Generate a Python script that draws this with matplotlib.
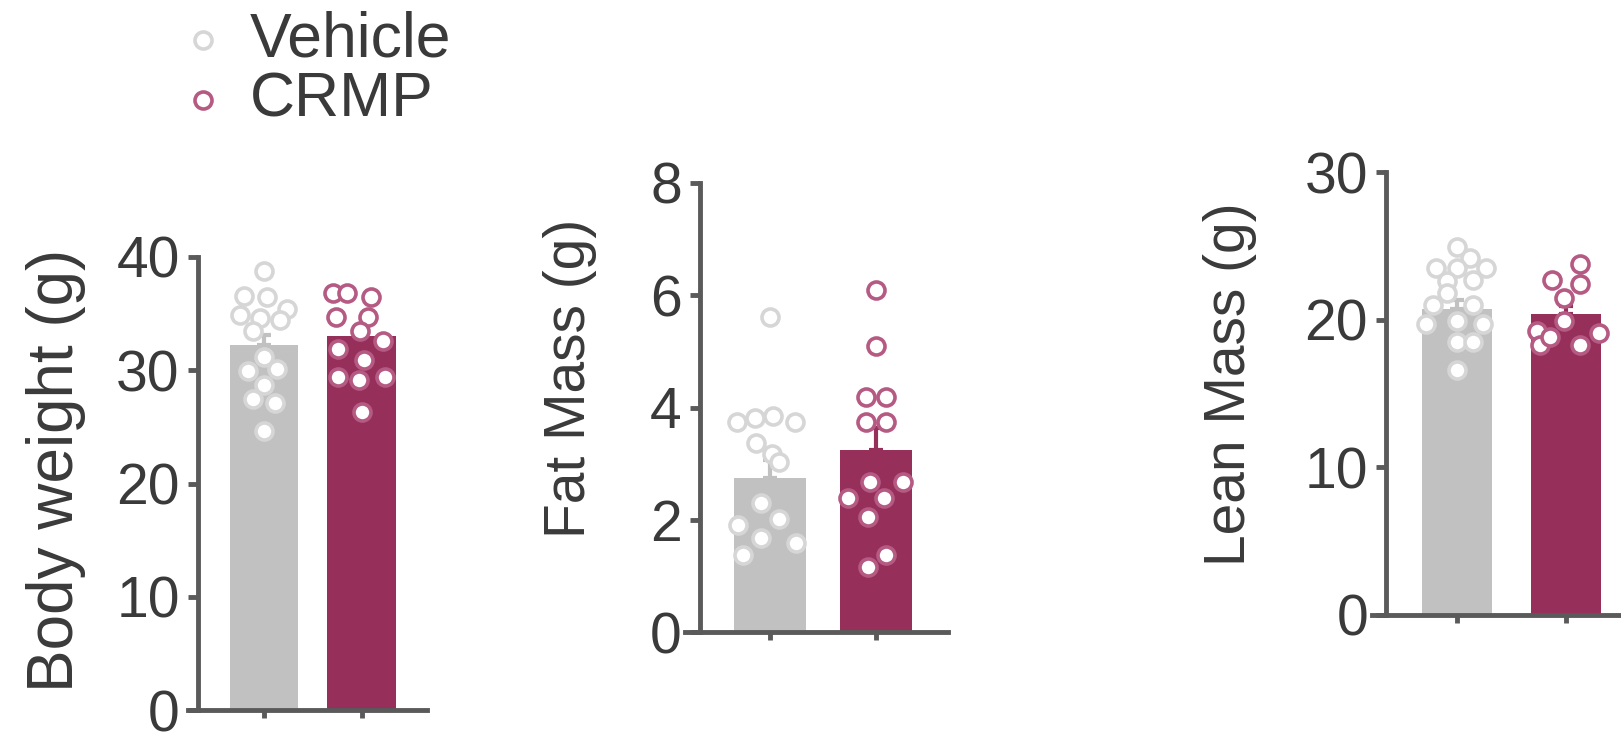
import numpy as np
import matplotlib
matplotlib.use('Agg')
import matplotlib.pyplot as plt
import matplotlib as mpl

mpl.rcParams['font.family'] = ['Liberation Sans', 'DejaVu Sans']
mpl.rcParams['axes.spines.top'] = False
mpl.rcParams['axes.spines.right'] = False

AXC = '#5a5a5a'; TXT = '#3a3a3a'
GREY = '#c1c1c1'; GREY_DOT = '#d6d6d6'
PLUM = '#96305a'; PLUM_DOT = '#b55a83'

groups = ['Vehicle', 'CRMP']

# body weight (g)
bw_mean = [32.2, 33.0]
bw_sem = [0.9, 0.8]
bw_veh = [38.8, 36.6, 36.5, 35.4, 34.9, 34.6, 34.4, 33.5, 31.2, 29.9, 30.1, 28.7, 27.5, 27.1, 24.6]
bw_veh_dx = [0.0, -0.21, 0.03, 0.23, -0.25, -0.04, 0.16, -0.11, 0.0, -0.16, 0.13, 0.0, -0.11, 0.11, 0.0]
bw_crmp = [36.8, 36.8, 36.5, 34.7, 34.7, 33.5, 32.6, 31.9, 30.9, 29.4, 29.1, 29.4, 26.3]
bw_crmp_dx = [-0.29, -0.15, 0.10, -0.26, 0.07, -0.02, 0.22, -0.24, 0.02, -0.24, -0.03, 0.24, 0.0]

# fat mass (g)
fm_mean = [2.74, 3.24]
fm_sem = [0.33, 0.40]
fm_veh = [5.62, 3.75, 3.81, 3.84, 3.75, 3.36, 3.18, 3.03, 2.29, 2.02, 1.90, 1.67, 1.58, 1.37]
fm_veh_dx = [0.0, -0.31, -0.14, 0.03, 0.24, -0.13, 0.02, 0.09, -0.08, 0.09, -0.30, -0.08, 0.25, -0.25]
fm_crmp = [6.10, 5.09, 4.19, 4.19, 3.75, 3.75, 2.68, 2.68, 2.38, 2.38, 2.05, 1.37, 1.16]
fm_crmp_dx = [0.0, 0.0, -0.09, 0.10, -0.09, 0.10, -0.06, 0.26, -0.26, 0.08, -0.07, 0.10, -0.07]

# lean mass (g)
lm_mean = [20.7, 20.4]
lm_sem = [0.6, 0.5]
lm_veh = [24.9, 24.2, 23.5, 23.5, 23.5, 22.6, 22.7, 21.8, 21.0, 21.0, 19.7, 19.9, 19.7, 18.5, 18.5, 16.6]
lm_veh_dx = [0.0, 0.12, -0.19, 0.0, 0.27, -0.09, 0.15, -0.09, -0.22, 0.15, -0.28, 0.0, 0.24, 0.0, 0.15, 0.0]
lm_crmp = [23.8, 22.7, 22.4, 21.5, 19.9, 19.2, 19.1, 18.3, 18.3, 18.8]
lm_crmp_dx = [0.13, -0.13, 0.13, -0.02, -0.02, -0.27, 0.30, -0.24, 0.13, -0.15]

W, H = 1621, 736
fig = plt.figure(figsize=(W/100, H/100), dpi=100)


def panel(px_rect, xlim, spine_x, ylim, yticks, ylabel, lab_xy, width,
          mean, sem, veh, veh_dx, crmp, crmp_dx, lab_size=41):
    x0, y0, x1, y1 = px_rect
    ax = fig.add_axes([x0/W, (H-y1)/H, (x1-x0)/W, (y1-y0)/H])
    ax.patch.set_alpha(0)
    ax.bar([0, 1], mean, width=width, color=[GREY, PLUM], zorder=1)
    for i, c in enumerate([GREY, PLUM]):
        ax.errorbar(i, mean[i], yerr=[[0], [sem[i]]], color=c, lw=3,
                    capsize=5, capthick=3, zorder=1)
    ax.scatter(np.array(veh_dx), veh, s=150, facecolor='white',
               edgecolor=GREY_DOT, linewidth=2.6, zorder=3, clip_on=False)
    ax.scatter(1 + np.array(crmp_dx), crmp, s=150, facecolor='white',
               edgecolor=PLUM_DOT, linewidth=2.6, zorder=3, clip_on=False)
    ax.set_xlim(*xlim)
    ax.set_ylim(*ylim)
    ax.spines['left'].set_position(('data', spine_x))
    for s in ['left', 'bottom']:
        ax.spines[s].set_color(AXC)
        ax.spines[s].set_linewidth(3.5)
    ax.set_xticks([0, 1])
    ax.set_xticklabels([])
    ax.set_yticks(yticks)
    ax.tick_params(axis='y', length=7, width=3.5, color=AXC, labelsize=41,
                   labelcolor=TXT, pad=6)
    ax.tick_params(axis='x', length=6, width=3.5, color=AXC)
    ax.set_ylabel(ylabel, fontsize=lab_size, color=TXT)
    lx, ly = lab_xy
    ax.yaxis.set_label_coords((lx - x0)/(x1 - x0), (y1 - ly)/(y1 - y0))
    return ax


panel((188, 257, 427, 710), (-0.78, 1.67), -0.68, (0, 40), [0, 10, 20, 30, 40],
      'Body weight (g)', (86, 470), 0.70, bw_mean, bw_sem, bw_veh, bw_veh_dx,
      bw_crmp, bw_crmp_dx, lab_size=46)
panel((685, 183, 948, 632), (-0.80, 1.68), -0.66, (0, 8), [0, 2, 4, 6, 8],
      'Fat Mass (g)', (597, 378), 0.68, fm_mean, fm_sem, fm_veh, fm_veh_dx,
      fm_crmp, fm_crmp_dx)
panel((1372, 172, 1640, 615), (-0.78, 1.68), -0.65, (0, 30), [0, 10, 20, 30],
      'Lean Mass (g)', (1257, 384), 0.64, lm_mean, lm_sem, lm_veh, lm_veh_dx,
      lm_crmp, lm_crmp_dx)

# legend
lg = fig.add_axes([0, 0, 1, 1])
lg.set_axis_off()
lg.set_xlim(0, W); lg.set_ylim(H, 0)
lg.scatter([203], [40], s=150, facecolor='white', edgecolor=GREY_DOT, linewidth=2.6)
lg.scatter([203], [100], s=150, facecolor='white', edgecolor=PLUM_DOT, linewidth=2.6)
for yy, name in zip([40, 100], groups):
    lg.text(250, yy, name, fontsize=45, color=TXT, va='center', ha='left')

fig.savefig('out.png', dpi=100)
